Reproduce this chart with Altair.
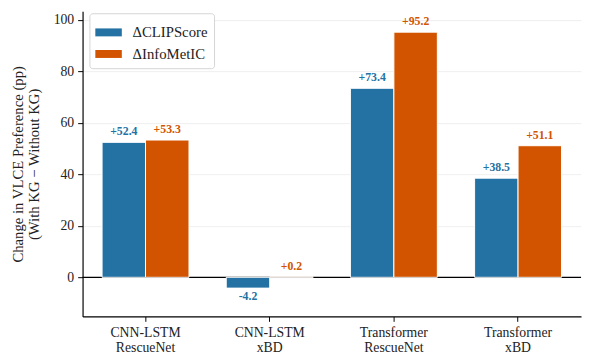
import altair as alt
import pandas as pd

categories = ["CNN-LSTM\nRescueNet", "CNN-LSTM\nxBD", "Transformer\nRescueNet", "Transformer\nxBD"]
series = ["ΔCLIPScore", "ΔInfoMetIC"]
clip_delta = [52.4, -4.2, 73.4, 38.5]
info_delta = [53.3, 0.2, 95.2, 51.1]
colors = ["#2471a3", "#d35400"]

rows = []
for c, a, b in zip(categories, clip_delta, info_delta):
    rows.append({"category": c, "series": series[0], "value": a})
    rows.append({"category": c, "series": series[1], "value": b})
df = pd.DataFrame(rows)

FONT = "Liberation Serif"

x_enc = alt.X(
    "category:N", sort=categories,
    scale=alt.Scale(paddingInner=0.3, paddingOuter=0.157),
    axis=alt.Axis(title=None, labelExpr="split(datum.label, '\\n')", labelAngle=0,
                  labelLineHeight=16, labelFontSize=14, labelPadding=4, tickSize=5,
                  grid=False, labelColor="#222222", labelFont=FONT),
)
xoff_enc = alt.XOffset("series:N", sort=series, scale=alt.Scale(paddingInner=0, paddingOuter=0))
y_scale = alt.Scale(domain=[-15.2, 103.3], nice=False, zero=False)
color_enc = alt.Color(
    "series:N", sort=series, scale=alt.Scale(domain=series, range=colors),
    legend=alt.Legend(
        title=None, orient="none", legendX=7, legendY=2,
        symbolType="M-1,-0.3H1V0.3H-1Z", symbolSize=729, symbolStrokeWidth=0,
        labelFontSize=15, labelFont=FONT, labelOffset=11, rowPadding=0,
        fillColor="white", strokeColor="#d4d4d4", cornerRadius=3, padding=6,
        labelColor="#222222",
    ),
)

zero = alt.Chart(pd.DataFrame({"z": [0]})).mark_rule(color="black", strokeWidth=1.2).encode(
    y=alt.Y("z:Q", scale=y_scale)
)

bars = alt.Chart(df).mark_bar(stroke="white", strokeWidth=1).encode(
    x=x_enc,
    xOffset=xoff_enc,
    y=alt.Y(
        "value:Q", scale=y_scale,
        axis=alt.Axis(
            title=["Change in VLCE Preference (pp)", "(With KG − Without KG)"],
            titleFontSize=15, titleFontWeight="normal", titleLineHeight=16,
            titlePadding=12, values=[0, 20, 40, 60, 80, 100], labelFontSize=14,
            labelPadding=4, tickSize=5, grid=True, labelColor="#222222",
            labelFont=FONT, titleFont=FONT,
        ),
    ),
    y2=alt.datum(0),
    color=color_enc,
)

label_calc = ("datum.value >= 0 ? '+' + format(datum.value, '.1f') : "
              "replace(format(datum.value, '.1f'), '\u2212', '-')")

text_color = alt.Color("series:N", sort=series, scale=alt.Scale(domain=series, range=colors), legend=None)

pos_text = alt.Chart(df).transform_filter("datum.value >= 0").transform_calculate(
    lbl=label_calc
).mark_text(fontWeight="bold", fontSize=12, font=FONT, dy=-7, baseline="alphabetic").encode(
    x=x_enc, xOffset=xoff_enc, y=alt.Y("value:Q", scale=y_scale),
    text="lbl:N", color=text_color,
)

neg_text = alt.Chart(df).transform_filter("datum.value < 0").transform_calculate(
    lbl=label_calc
).mark_text(fontWeight="bold", fontSize=12, font=FONT, dy=12.5, baseline="alphabetic").encode(
    x=x_enc, xOffset=xoff_enc, y=alt.Y("value:Q", scale=y_scale),
    text="lbl:N", color=text_color,
)

chart = alt.layer(zero, bars, pos_text, neg_text).properties(
    width=508, height=311,
    padding={"left": 3, "top": 0, "right": 0, "bottom": 0},
    background="white",
).configure_view(stroke=None).configure_axis(
    labelFont=FONT, titleFont=FONT, domainColor="black", domainWidth=1.2,
    tickColor="black", tickWidth=1, gridColor="#ebebeb", gridWidth=0.8,
    titleColor="#222222",
)

chart.save("out.html", embed_options={"renderer": "svg", "actions": False})
